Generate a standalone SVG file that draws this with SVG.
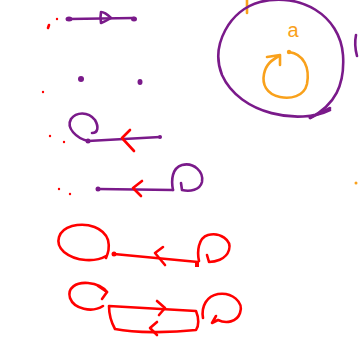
<svg xmlns="http://www.w3.org/2000/svg" width="359" height="338" viewBox="0 0 359 338">
<style>
.p{fill:none;stroke:#7a1a8a;stroke-width:2.6;stroke-linecap:round;stroke-linejoin:round}
.r{fill:none;stroke:#f00;stroke-width:2.6;stroke-linecap:round;stroke-linejoin:round}
.o{fill:none;stroke:#f9a11b;stroke-width:2.6;stroke-linecap:round;stroke-linejoin:round}
.pd{fill:#7a1a8a}
.rd{fill:#f00}
.od{fill:#f9a11b}
</style>
<rect width="359" height="338" fill="#fff"/>
<g id="specks">
<circle class="rd" cx="57" cy="19" r="1.2"/>
<path class="r" d="M49,25 L48,28" stroke-width="2"/>
<circle class="rd" cx="43" cy="92" r="1.2"/>
<circle class="rd" cx="50" cy="136" r="1.2"/>
<circle class="rd" cx="64" cy="142" r="1.2"/>
<circle class="rd" cx="59" cy="189" r="1.2"/>
<circle class="rd" cx="70" cy="194" r="1.2"/>
<circle class="od" cx="356" cy="183" r="1.5"/>
<path class="o" d="M247,0 L247,13"/>
<path class="p" d="M356,35 Q354,45 357,56"/>
</g>
<g id="row1">
<ellipse class="pd" cx="69" cy="19" rx="3.5" ry="2.5"/>
<ellipse class="pd" cx="134" cy="19" rx="3" ry="2.5"/>
<path class="p" d="M69,19 L134,18"/>
<path class="p" d="M101,23 Q108,20 111,18 Q105,12 101,12 Q100,17 101,23"/>
</g>
<g id="row2">
<circle class="pd" cx="81" cy="79" r="3"/>
<ellipse class="pd" cx="140" cy="82" rx="2.5" ry="3"/>
</g>
<g id="nodeA">
<path class="p" d="M330,110 C300,125 240,115 222,75 C210,45 230,10 260,2 C300,-8 340,15 343,55 C345,85 335,105 310,118"/>
<path class="p" d="M310,118 L330,108"/>
<text x="293" y="37" font-family="'Liberation Sans',sans-serif" font-size="20" fill="#f9a11b" text-anchor="middle">a</text>
<circle class="od" cx="289" cy="52" r="2.2"/>
<path class="o" d="M289,52 C304,54 310,68 307,84 C304,97 290,99 280,97 C266,94 262,84 264,74 C266,64 272,60 279,56"/>
<path class="o" d="M267,57 L280,55 L280,65"/>
</g>
<g id="row3">
<circle class="pd" cx="88" cy="141" r="2.5"/>
<circle class="pd" cx="160" cy="137" r="2"/>
<path class="p" d="M88,141 L160,137"/>
<path class="p" d="M88,141 C76,138 66,128 71,119 C76,112 88,111 95,120 C99,127 98,133 92,133"/>
<path class="r" d="M130,130 L122,138 L134,151"/>
</g>
<g id="row4">
<circle class="pd" cx="98" cy="189" r="2.5"/>
<path class="p" d="M98,189 L173,190"/>
<path class="p" d="M173,190 C171,180 172,168 182,165 C194,162 204,172 202,182 C200,190 190,192 182,190 L181,183"/>
<path class="r" d="M142,181 L133,188 L141,196"/>
</g>
<g id="row5">
<path class="r" d="M106,256 C96,262 76,262 64,252 C54,243 58,230 72,226 C88,222 104,228 108,240 C110,248 108,253 106,258"/>
<circle class="rd" cx="114" cy="254" r="2.5"/>
<path class="r" d="M114,254 L198,262"/>
<path class="r" d="M163,247 L155,253 L165,265"/>
<rect class="rd" x="195" y="263" width="4" height="4"/>
<path class="r" d="M199,261 C197,252 198,238 208,235 C220,232 232,240 229,250 C226,260 214,262 209,262 L207,255"/>
</g>
<g id="row6">
<path class="r" d="M103,306 C92,313 74,309 70,298 C67,288 76,282 88,283 C98,284 104,288 107,292"/>
<path class="r" d="M98,286 L107,292 L102,299"/>
<path class="r" d="M109,306 L196,311 C199,318 199,326 196,330 C170,333 135,333 115,329 C110,320 109,312 109,306"/>
<path class="r" d="M157,301 L165,308 L159,315"/>
<path class="r" d="M157,322 L150,328 L157,335"/>
<path class="r" d="M203,318 C201,306 207,296 218,294 C232,292 244,302 240,313 C237,322 226,324 218,320 L212,323 L216,316"/>
</g>
</svg>
